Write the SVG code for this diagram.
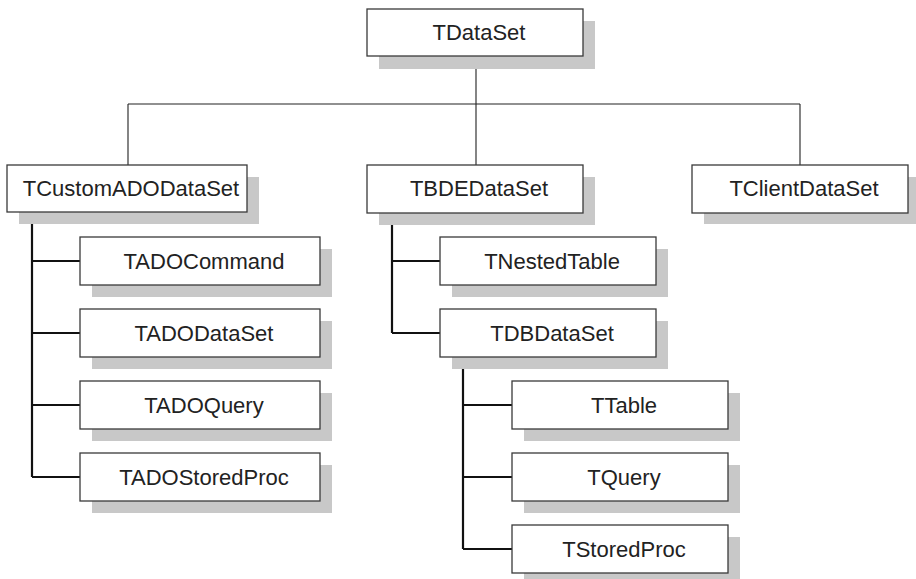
<svg xmlns="http://www.w3.org/2000/svg" width="916" height="579" viewBox="0 0 916 579">
<style>
.sh{fill:#c8c8c8}
.bx{fill:#fff;stroke:#3a3a3a;stroke-width:1.3}
.t{font-family:"Liberation Sans",Arial,sans-serif;font-size:22px;fill:#222;text-anchor:middle}
.thin{stroke:#222;stroke-width:1.1;fill:none}
.thick{stroke:#111;stroke-width:2.2;fill:none}
</style>
<rect width="916" height="579" fill="#fff"/>
<g id="connectors">
<path class="thin" d="M476 56V165M128 104H800M128 104V165M800 104V165"/>
<path class="thick" d="M32 212V477M32 261H80M32 333H80M32 405H80M32 477H80"/>
<path class="thick" d="M392 213V333M392 261H440M392 333H440"/>
<path class="thick" d="M463 357V549M463 405H512M463 477H512M463 549H512"/>
</g>
<g id="TDataSet"><rect class="sh" x="379" y="21" width="216" height="48"/><rect class="bx" x="367" y="9" width="216" height="47"/><text class="t" x="479" y="40">TDataSet</text></g>
<g id="TCustomADODataSet"><rect class="sh" x="19" y="177" width="240" height="47"/><rect class="bx" x="7" y="165" width="240" height="47"/><text class="t" x="131" y="196">TCustomADODataSet</text></g>
<g id="TBDEDataSet"><rect class="sh" x="379" y="177" width="216" height="48"/><rect class="bx" x="367" y="165" width="216" height="48"/><text class="t" x="479" y="196">TBDEDataSet</text></g>
<g id="TClientDataSet"><rect class="sh" x="704" y="177" width="216" height="47"/><rect class="bx" x="692" y="165" width="216" height="48"/><text class="t" x="804" y="196">TClientDataSet</text></g>
<g id="TADOCommand"><rect class="sh" x="92" y="249" width="240" height="48"/><rect class="bx" x="80" y="237" width="240" height="48"/><text class="t" x="204" y="268.5">TADOCommand</text></g>
<g id="TADODataSet"><rect class="sh" x="92" y="321" width="240" height="48"/><rect class="bx" x="80" y="309" width="240" height="48"/><text class="t" x="204" y="340.5">TADODataSet</text></g>
<g id="TADOQuery"><rect class="sh" x="92" y="393" width="240" height="48"/><rect class="bx" x="80" y="381" width="240" height="48"/><text class="t" x="204" y="412.5">TADOQuery</text></g>
<g id="TADOStoredProc"><rect class="sh" x="92" y="465" width="240" height="48"/><rect class="bx" x="80" y="453" width="240" height="48"/><text class="t" x="204" y="484.5">TADOStoredProc</text></g>
<g id="TNestedTable"><rect class="sh" x="452" y="249" width="216" height="48"/><rect class="bx" x="440" y="237" width="216" height="48"/><text class="t" x="552" y="268.5">TNestedTable</text></g>
<g id="TDBDataSet"><rect class="sh" x="452" y="321" width="216" height="48"/><rect class="bx" x="440" y="309" width="216" height="48"/><text class="t" x="552" y="340.5">TDBDataSet</text></g>
<g id="TTable"><rect class="sh" x="524" y="393" width="216" height="48"/><rect class="bx" x="512" y="381" width="216" height="48"/><text class="t" x="624" y="412.5">TTable</text></g>
<g id="TQuery"><rect class="sh" x="524" y="465" width="216" height="48"/><rect class="bx" x="512" y="453" width="216" height="48"/><text class="t" x="624" y="484.5">TQuery</text></g>
<g id="TStoredProc"><rect class="sh" x="524" y="537" width="216" height="48"/><rect class="bx" x="512" y="525" width="216" height="48"/><text class="t" x="624" y="556.5">TStoredProc</text></g>
</svg>
